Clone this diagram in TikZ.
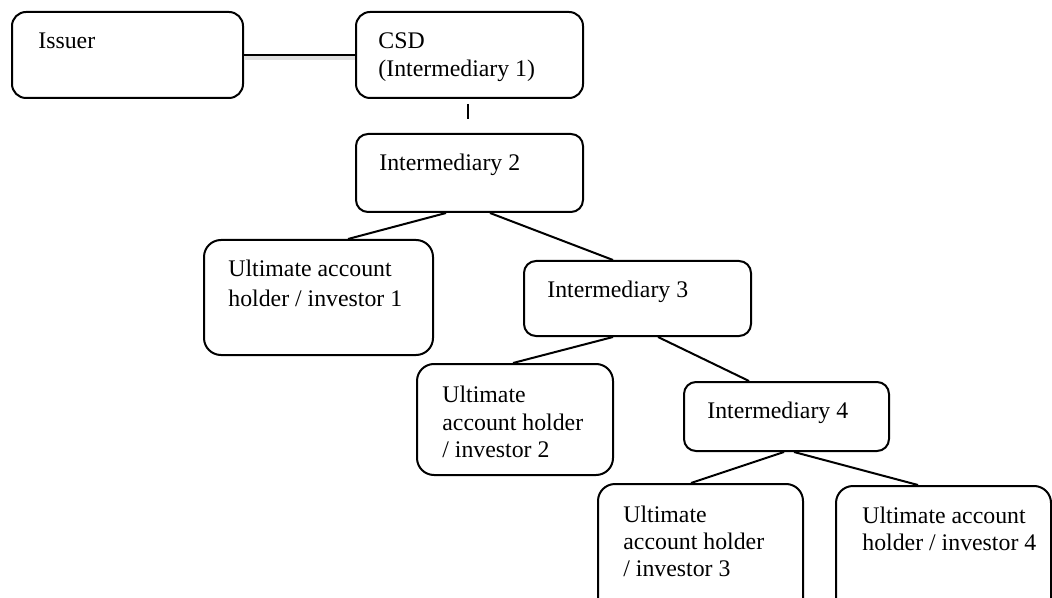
\documentclass[tikz,border=0pt]{standalone}
\usepackage{fontspec}
\setmainfont{Liberation Serif}
\usetikzlibrary{calc}

\newlength{\du}
\setlength{\du}{0.5pt}

\begin{document}
\begin{tikzpicture}[
  box/.style={draw=black, fill=white, line width=2\du, rounded corners=12\du,
    anchor=north west, inner sep=0pt},
  holderbox/.style={box, rounded corners=17\du},
  txt/.style={anchor=base west, inner sep=0pt, font=\fontsize{11.9pt}{14pt}\selectfont},
  link/.style={draw=black, line width=2\du}
]
\useasboundingbox (0\du,0\du) rectangle (1052\du,-598\du);
% top row
\node[box, rounded corners=14\du, minimum width=231\du, minimum height=86\du] (issuer) at (11\du,-11\du) {};
\node[box, rounded corners=14\du, minimum width=227\du, minimum height=86\du] (csd) at (355\du,-11\du) {};
\node[txt] (issuertxt) at (38\du,-49\du) {Issuer};
\node[txt] (csdtxt) at (378\du,-49\du) {CSD};
\node[txt] (csdtxtb) at (378\du,-77\du) {(Intermediary 1)};
% intermediaries
\node[box, minimum width=227\du, minimum height=78\du] (int2) at (355\du,-133\du) {};
\node[txt] (int2txt) at (379\du,-171\du) {Intermediary 2};
\node[box, minimum width=227\du, minimum height=75\du] (int3) at (523\du,-260\du) {};
\node[txt] (int3txt) at (547\du,-297\du) {Intermediary 3};
\node[box, minimum width=205\du, minimum height=69\du] (int4) at (683\du,-381\du) {};
\node[txt] (int4txt) at (707\du,-418\du) {Intermediary 4};
% ultimate account holders
\node[holderbox, minimum width=229\du, minimum height=115\du] (uah1) at (203\du,-239\du) {};
\node[txt] at (228\du,-277\du) {Ultimate account};
\node[txt] at (228\du,-306\du) {holder / investor 1};
\node[holderbox, minimum width=196\du, minimum height=111\du] (uah2) at (416\du,-363\du) {};
\node[txt] at (442\du,-402\du) {Ultimate};
\node[txt] at (442\du,-430\du) {account holder};
\node[txt] at (442\du,-457\du) {/ investor 2};
\node[holderbox, minimum width=205\du, minimum height=135\du] (uah3) at (597\du,-483\du) {};
\node[txt] at (623\du,-522\du) {Ultimate};
\node[txt] at (623\du,-549\du) {account holder};
\node[txt] at (623\du,-576\du) {/ investor 3};
\node[holderbox, minimum width=215\du, minimum height=135\du] (uah4) at (835\du,-485\du) {};
\node[txt] at (862\du,-523\du) {Ultimate account};
\node[txt] at (862\du,-550\du) {holder / investor 4};
% connectors
\draw[gray!25, line width=4\du] ([yshift=-3\du]issuer.east) -- ([yshift=-3\du]csd.west);
\draw[link] (issuer.east) -- (csd.west);
\draw[link] ([xshift=-1.5\du,yshift=-5\du]csd.south) -- ([xshift=-1.5\du,yshift=14\du]int2.north);
\draw[link] ([xshift=-23.5\du]int2.south) -- ([xshift=29.5\du]uah1.north);
\draw[link] ([xshift=20.5\du]int2.south) -- ([xshift=-24.5\du]int3.north);
\draw[link] ([xshift=-24.5\du]int3.south) -- ([xshift=-2\du]uah2.north);
\draw[link] ([xshift=20.5\du]int3.south) -- ([xshift=-37.5\du]int4.north);
\draw[link] ([xshift=-2.5\du]int4.south) -- ([xshift=-9.5\du]uah3.north);
\draw[link] ([xshift=7.5\du]int4.south) -- ([xshift=-25.5\du]uah4.north);
\end{tikzpicture}
\end{document}
